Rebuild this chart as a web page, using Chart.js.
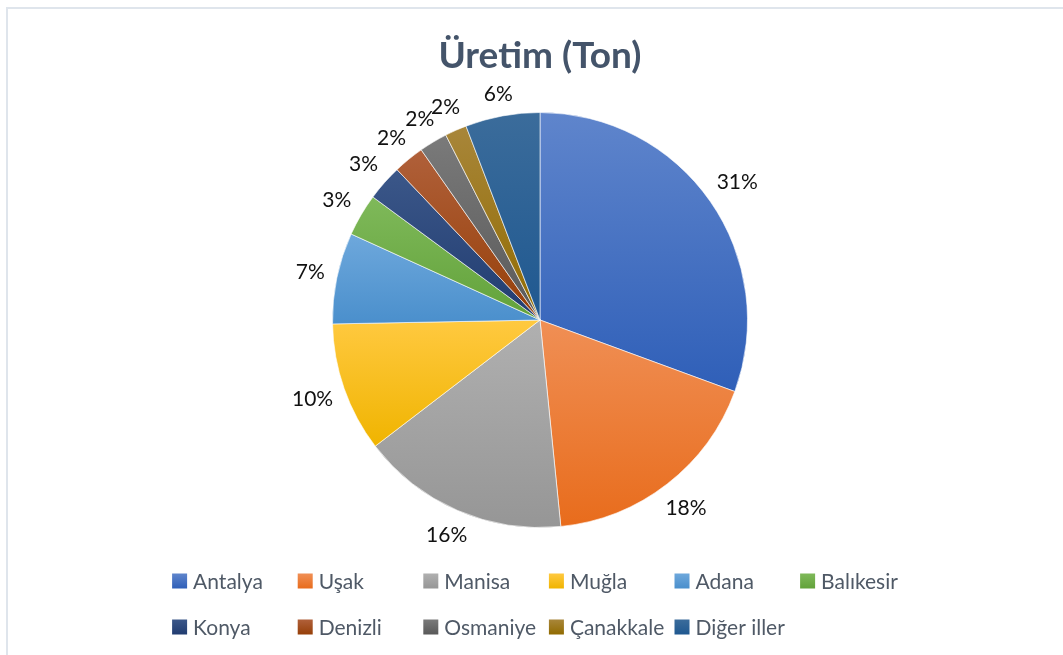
<!DOCTYPE html>
<html lang="tr">
<head>
<meta charset="utf-8">
<title>Üretim (Ton)</title>
<script src="https://cdn.jsdelivr.net/npm/chart.js@4.4.1/dist/chart.umd.min.js"></script>
<style>
    html, body { margin: 0; padding: 0; background: #fff; }
    #wrap { width: 1063px; height: 655px; position: relative; }
</style>
</head>
<body>
<div id="wrap"><canvas id="pieChart" width="1063" height="655"></canvas></div>
<script>
// data (shares in %)
const provinces = ["Antalya", "Uşak", "Manisa", "Muğla", "Adana", "Balıkesir",
    "Konya", "Denizli", "Osmaniye", "Çanakkale", "Diğer iller"];
const production = [30.6, 17.8, 16.2, 10.1, 7.1, 3.3, 2.8, 2.4, 2.2, 1.7, 5.8];
const chartTitle = "Üretim (Ton)";

// light (top) / dark (bottom) of each slice's gradient
const lightColors = ["#5f85cc", "#f08f55", "#b0b0b0", "#ffc940", "#6ea8dc", "#7fb95a",
    "#3b5789", "#b0603a", "#7a7a7a", "#a8863a", "#3b6c9b"];
const darkColors = ["#2f5fb8", "#e86c1c", "#969696", "#f0b400", "#4a8fcc", "#62a23a",
    "#213c70", "#963f08", "#595959", "#916b00", "#1f5890"];

const FONT = "Lato, 'Open Sans', sans-serif";

const framePlugin = {
    id: "frame",
    beforeDraw(chart) {
        const ctx = chart.ctx;
        ctx.save();
        ctx.strokeStyle = "#dfe5ec";
        ctx.lineWidth = 2;
        ctx.beginPath();
        ctx.moveTo(7, chart.height);
        ctx.lineTo(7, 8);
        ctx.lineTo(chart.width, 8);
        ctx.stroke();
        ctx.restore();
    },
};

// give every slice a vertical gradient over its own bounding box
const gradientPlugin = {
    id: "sliceGradient",
    beforeDatasetsDraw(chart) {
        const meta = chart.getDatasetMeta(0);
        const ctx = chart.ctx;
        meta.data.forEach((arc, i) => {
            const r = arc.outerRadius;
            let minY = arc.y;
            let maxY = arc.y;
            const steps = 40;
            for (let s = 0; s <= steps; s++) {
                const a = arc.startAngle + (arc.endAngle - arc.startAngle) * s / steps;
                const y = arc.y + r * Math.sin(a);
                minY = Math.min(minY, y);
                maxY = Math.max(maxY, y);
            }
            const g = ctx.createLinearGradient(0, minY, 0, maxY);
            g.addColorStop(0, lightColors[i]);
            g.addColorStop(1, darkColors[i]);
            arc.options.backgroundColor = g;
        });
    },
};

const labelPlugin = {
    id: "outsideLabels",
    afterDatasetsDraw(chart) {
        const meta = chart.getDatasetMeta(0);
        const ctx = chart.ctx;
        const total = production.reduce((a, b) => a + b, 0);
        ctx.save();
        ctx.font = "21px " + FONT;
        ctx.fillStyle = "#111";
        ctx.textAlign = "center";
        ctx.textBaseline = "middle";
        meta.data.forEach((arc, i) => {
            const text = Math.round(production[i] / total * 100) + "%";
            const w = ctx.measureText(text).width;
            const h = 18;
            const mid = (arc.startAngle + arc.endAngle) / 2;
            const cx = Math.cos(mid);
            const sy = Math.sin(mid);
            const extent = Math.abs(cx) * w / 2 + Math.abs(sy) * h / 2;
            const d = arc.outerRadius + 11 + extent;
            ctx.fillText(text, arc.x + d * cx, arc.y + d * sy);
        });
        ctx.restore();
    },
};

const legendPlugin = {
    id: "gridLegend",
    afterDraw(chart) {
        const ctx = chart.ctx;
        const cols = 6;
        const colWidth = 125.6;
        const rowY = [581, 627];
        const box = 15;
        ctx.save();
        ctx.font = "21px " + FONT;
        ctx.textBaseline = "middle";
        const lastWidth = box + 6 + ctx.measureText(provinces[cols - 1]).width;
        const centerX = (chart.chartArea.left + chart.chartArea.right) / 2 - 5;
        const startX = centerX - ((cols - 1) * colWidth + lastWidth) / 2;
        provinces.forEach((name, i) => {
            const x = startX + (i % cols) * colWidth;
            const y = rowY[Math.floor(i / cols)];
            const g = ctx.createLinearGradient(0, y - box / 2, 0, y + box / 2);
            g.addColorStop(0, lightColors[i]);
            g.addColorStop(1, darkColors[i]);
            ctx.fillStyle = g;
            ctx.fillRect(x, y - box / 2, box, box);
            ctx.fillStyle = "#4f5966";
            ctx.fillText(name, x + box + 6, y + 1);
        });
        ctx.restore();
    },
};

const ctxPie = document.getElementById("pieChart").getContext("2d");

new Chart(ctxPie, {
    type: "pie",
    data: {
        labels: provinces,
        datasets: [
            {
                data: production,
                backgroundColor: (c) => darkColors[c.dataIndex],
                borderColor: "rgba(255,255,255,0.6)",
                borderWidth: 1,
            },
        ],
    },
    options: {
        responsive: false,
        animation: false,
        layout: {
            padding: { top: 10, bottom: 127, left: 17, right: 0 },
        },
        plugins: {
            legend: { display: false },
            tooltip: { enabled: false },
            title: {
                display: true,
                fullSize: false,
                text: chartTitle,
                color: "#44546a",
                font: { family: FONT, size: 37, weight: "bold" },
                padding: { top: 24, bottom: 33.6 },
            },
        },
    },
    plugins: [framePlugin, gradientPlugin, labelPlugin, legendPlugin],
});
</script>
</body>
</html>
